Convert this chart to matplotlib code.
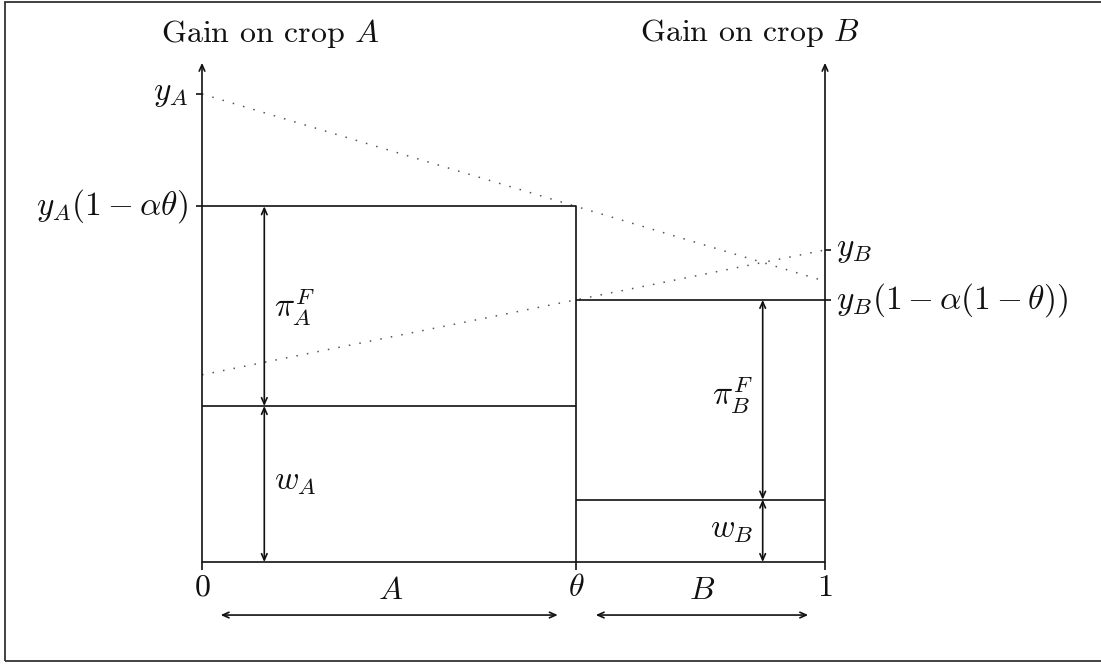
import matplotlib
matplotlib.use('Agg')
from matplotlib import pyplot as plt
from matplotlib import patches

plt.rcParams['mathtext.fontset'] = 'cm'
plt.rcParams['font.family'] = 'serif'
plt.rcParams['font.serif'] = ['cmr10', 'DejaVu Serif']
plt.rcParams['axes.formatter.use_mathtext'] = True

# model values
crops = ['A', 'B']
yield_max = [3.0, 2.0]      # y_A, y_B
wages = [1.0, 0.4]          # w_A, w_B
alpha = 0.4
theta = 0.6
axis_top = 3.2

y_A, y_B = yield_max
w_A, w_B = wages
gain_A = y_A * (1 - alpha * theta)
gain_B = y_B * (1 - alpha * (1 - theta))

LW = 1.2
FS = 23
FS_MATH = 24
BLACK = '#111111'

fig = plt.figure(figsize=(11.01, 6.64), dpi=100)
ax = fig.add_axes([0, 0, 1, 1])
ax.set_xlim(-202 / 623, 899 / 623)
ax.set_ylim(-102 / 156, 562 / 156)
ax.axis('off')


def arrow(x0, y0, x1, y1, style='->'):
    ax.annotate('', xy=(x1, y1), xytext=(x0, y0),
                arrowprops=dict(arrowstyle=style + ',head_length=0.45,head_width=0.2',
                                lw=LW, color=BLACK, shrinkA=0, shrinkB=0))


def line(xs, ys, **kw):
    kw.setdefault('color', BLACK)
    kw.setdefault('lw', LW)
    ax.plot(xs, ys, solid_capstyle='butt', **kw)


def label(x, y, s, dx=0, dy=0, ha='center', va='center', fs=FS_MATH):
    ax.annotate(s, xy=(x, y), xytext=(dx, dy), textcoords='offset points',
                ha=ha, va=va, fontsize=fs, color=BLACK)


# axes
arrow(0, 0, 0, axis_top)
arrow(1, 0, 1, axis_top)
line([0, 1], [0, 0])

# ticks
tick_x = 6 / 623
tick_y = 8 / 156
line([-tick_x, 0], [y_A, y_A])
line([-tick_x, 0], [gain_A, gain_A])
line([1, 1 + tick_x], [y_B, y_B])
line([1, 1 + tick_x], [gain_B, gain_B])
for xv in [0, theta, 1]:
    line([xv, xv], [0, -tick_y])

# potential yields (dotted)
line([0, 1], [y_A, y_A * (1 - alpha)], ls=(0, (1, 6)), color='#555555', lw=1.1)
line([0, 1], [y_B * (1 - alpha), y_B], ls=(0, (1, 6)), color='#555555', lw=1.1)

# crop A block
line([0, theta, theta], [gain_A, gain_A, 0])
line([0, theta], [w_A, w_A])
# crop B block
line([theta, 1], [gain_B, gain_B])
line([theta, 1], [w_B, w_B])

# profit / wage arrows
arrow(0.1, gain_A, 0.1, w_A, '<->')
arrow(0.1, w_A, 0.1, 0, '<->')
arrow(0.9, gain_B, 0.9, w_B, '<->')
arrow(0.9, w_B, 0.9, 0, '<->')

# land shares
arrow(0.03, -0.34, 0.571, -0.34, '<->')
arrow(0.632, -0.34, 0.973, -0.34, '<->')

# labels
label(0.11, 3.39, 'Gain on crop $%s$' % crops[0], fs=FS)
label(0.88, 3.39, 'Gain on crop $%s$' % crops[1], fs=FS)
label(0, y_A, '$y_A$', dx=-10, ha='right')
label(0, gain_A, r'$y_A(1-\alpha\theta)$', dx=-10, ha='right')
label(1, y_B, '$y_B$', dx=8, ha='left')
label(1, gain_B, r'$y_B(1-\alpha(1-\theta))$', dx=8, ha='left')
label(0.1, 1.63, r'$\pi_A^F$', dx=7, ha='left')
label(0.1, 0.51, '$w_A$', dx=7, ha='left')
label(0.9, 1.07, r'$\pi_B^F$', dx=-7, ha='right')
label(0.9, 0.2, '$w_B$', dx=-7, ha='right')
label(0, -0.167, '$0$', fs=FS)
label(theta, -0.167, r'$\theta$', fs=FS)
label(1, -0.167, '$1$', fs=FS)
label(0.302, -0.19, '$%s$' % crops[0], fs=FS)
label(0.803, -0.19, '$%s$' % crops[1], fs=FS)

# outer frame (right side is cut off in the source)
fig.add_artist(patches.Rectangle((5 / 1101, 3 / 664), 1.2, 659 / 664,
                                 transform=fig.transFigure, fill=False,
                                 lw=1.3, edgecolor='#333333'))

fig.savefig('out.png', dpi=100)
